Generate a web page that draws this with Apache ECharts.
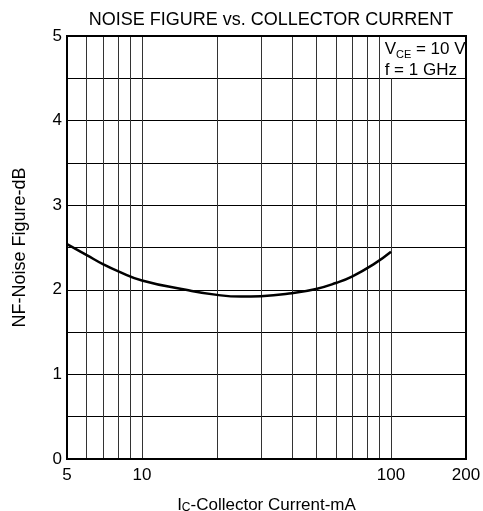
<!DOCTYPE html>
<html><head><meta charset="utf-8">
<script src="https://cdn.jsdelivr.net/npm/echarts@6/dist/echarts.min.js"></script>
<style>html,body{margin:0;padding:0;background:#fff}#c{width:483px;height:511px}</style>
</head><body><div id="c"></div>
<script>
const currentMA = [5, 6, 7, 8, 10, 15, 20, 25, 30, 40, 50, 60, 70, 85, 100];
const noiseFigureDB = [2.54, 2.41, 2.30, 2.22, 2.11, 2.00, 1.94, 1.92, 1.925, 1.96, 2.01, 2.08, 2.16, 2.30, 2.45];
const xTickLabels = [5, 10, 100, 200];
const xGridFull = [6, 7, 8, 9, 10, 20, 30, 40, 50, 60, 70, 80, 90];
const xGridShort = [100];
const yTickLabels = [0, 1, 2, 3, 4, 5];

const F = 'Liberation Sans, Arial, sans-serif';
const chart = echarts.init(document.getElementById('c'));
const vlines = xGridFull.map(v => ({xAxis: v}))
  .concat(xGridShort.map(v => [{coord: [v, 0]}, {coord: [v, 4.5]}]));
chart.setOption({
  animation: false,
  title: {text: 'NOISE FIGURE vs. COLLECTOR CURRENT', left: 266, textAlign: 'center', top: 6,
    textStyle: {fontFamily: F, fontSize: 18, fontWeight: 'normal', color: '#000'}},
  grid: {left: 67, right: 17, top: 36, bottom: 52, outerBoundsMode: 'none', containLabel: false},
  xAxis: {type: 'log', logBase: 10, min: 5, max: 200,
    name: '{a|I}{s|C}{a|-Collector Current-mA}', nameLocation: 'middle', nameGap: 38,
    nameTextStyle: {rich: {a: {fontFamily: F, fontSize: 17, color: '#000'}, s: {fontFamily: F, fontSize: 12, color: '#000', verticalAlign: 'bottom', padding:[5,0,0,0]}}},
    axisLine: {show: false}, axisTick: {show: false}, splitLine: {show: false}, minorSplitLine: {show: false},
    axisLabel: {customValues: xTickLabels, fontFamily: F, fontSize: 17, color: '#000', margin: 8, showMinLabel: true, showMaxLabel: true}},
  yAxis: {type: 'value', min: 0, max: 5, interval: 0.5,
    name: 'NF-Noise Figure-dB', nameLocation: 'middle', nameGap: 38,
    nameTextStyle: {fontFamily: F, fontSize: 18, color: '#000'},
    axisLine: {show: false}, axisTick: {show: false},
    splitLine: {show: true, lineStyle: {color: '#000', width: 1}},
    axisLabel: {fontFamily: F, fontSize: 17, color: '#000', margin: 5,
      formatter: v => yTickLabels.includes(v) ? String(v) : ''}},
  series: [{
    type: 'line', data: currentMA.map((x, i) => [x, noiseFigureDB[i]]),
    smooth: true, symbol: 'none', lineStyle: {color: '#000', width: 2.5}, z: 5,
    markLine: {silent: true, symbol: 'none', label: {show: false},
      lineStyle: {color: '#333', width: 1, type: 'solid'}, data: vlines}
  }]
});
const tl = chart.convertToPixel({gridIndex: 0}, [5, 5]);
const br = chart.convertToPixel({gridIndex: 0}, [200, 0]);
const b1 = chart.convertToPixel({gridIndex: 0}, [90, 5]);
const b2 = chart.convertToPixel({gridIndex: 0}, [200, 4.5]);
chart.setOption({graphic: [
  {type: 'rect', shape: {x: b1[0] + 1, y: b1[1], width: b2[0] - b1[0] - 1, height: b2[1] - b1[1] - 1},
    style: {fill: '#fff'}, z: 50},
  {type: 'text', x: b1[0] + 5, y: b1[1] + 3, z: 60,
    style: {text: '{a|V}{s|CE}{a| = 10 V}\n{a|f = 1 GHz}',
      rich: {a: {fontFamily: F, fontSize: 17, fill: '#000', lineHeight: 21},
             s: {fontFamily: F, fontSize: 11, fill: '#000', lineHeight: 21, verticalAlign: 'bottom', padding: [4, 0, 0, 0]}}}},
  {type: 'rect', shape: {x: tl[0], y: tl[1], width: br[0] - tl[0], height: br[1] - tl[1]},
    style: {fill: 'none', stroke: '#000', lineWidth: 2}, z: 100}]});
</script></body></html>
